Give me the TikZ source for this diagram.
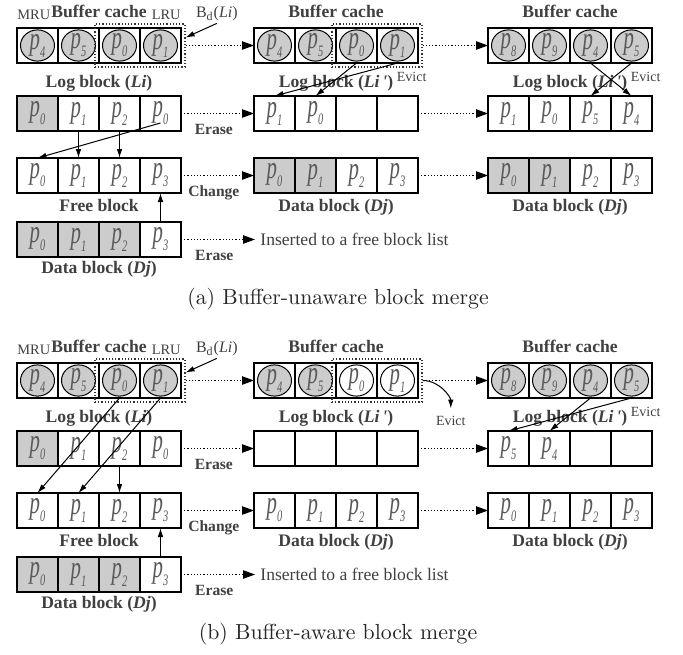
\documentclass[tikz,border=0pt]{standalone}
\usepackage{fontspec}
\usepackage{graphicx}
\newfontfamily\tms{Liberation Serif}
\usetikzlibrary{arrows.meta,positioning,fit}

% page label p_i
\newcommand\pg[1]{\scalebox{0.65}[1]{\tms\itshape\fontsize{16pt}{16pt}\selectfont p\raisebox{-4pt}{\fontsize{8pt}{8pt}\selectfont #1}}}
% one block of four pages
\newcommand\blockrow[4]{%
  \foreach \sty/\txt [count=\i] in {#4}
    \node[\sty] (#1-\i) at ({#2+41*(\i-1)},#3) {\txt};%
}

\begin{document}
\begin{tikzpicture}[x=0.5pt, y=-0.5pt,
    pcell/.style={draw, line width=0.9pt, minimum width=20.5pt, minimum height=17.5pt,
                  inner sep=0pt, outer sep=0pt, text=black!65},
    gcell/.style={pcell, fill=gray!40},
    gbuf/.style={pcell, path picture={\draw[fill=gray!40, line width=0.5pt]
                  (path picture bounding box.center) ellipse [x radius=8.5pt, y radius=7.8pt];}},
    wbuf/.style={pcell, path picture={\draw[fill=white, line width=0.5pt]
                  (path picture bounding box.center) ellipse [x radius=8.5pt, y radius=7.8pt];}},
    lab/.style={font=\tms\bfseries\fontsize{8.8pt}{10pt}\selectfont, text=black!75, inner sep=1pt},
    op/.style={font=\tms\bfseries\fontsize{7.8pt}{9pt}\selectfont, text=black!75, inner sep=1pt},
    note/.style={font=\tms\fontsize{8.8pt}{10pt}\selectfont, text=black!75, inner sep=1pt},
    lru/.style={font=\tms\fontsize{7.2pt}{8pt}\selectfont, text=black!75, inner sep=0pt},
    evict/.style={font=\tms\fontsize{7pt}{8pt}\selectfont, text=black!75, inner sep=0.5pt},
    selbox/.style={draw, densely dotted, line width=0.6pt, black!80, inner sep=2pt},
    flow/.style={densely dotted, line width=0.6pt, -{Triangle[length=6pt,width=4.2pt]}},
    pagearr/.style={line width=0.5pt, -{Latex[length=4.5pt,width=2.8pt]}},
    captext/.style={font=\fontsize{10.9pt}{13pt}\selectfont, text=black!85},
]
\useasboundingbox (0,0) rectangle (683,654);

% (a) Buffer-unaware block merge
\blockrow{a1b}{37.5}{45.5}{gbuf/\pg4, gbuf/\pg5, gbuf/\pg0, gbuf/\pg1}
\blockrow{a1l}{37.5}{113.5}{gcell/\pg0, pcell/\pg1, pcell/\pg2, pcell/\pg0}
\blockrow{a1f}{37.5}{175.5}{pcell/\pg0, pcell/\pg1, pcell/\pg2, pcell/\pg3}
\blockrow{a1d}{37.5}{239.5}{gcell/\pg0, gcell/\pg1, gcell/\pg2, pcell/\pg3}

\blockrow{a2b}{274.5}{45.5}{gbuf/\pg4, gbuf/\pg5, gbuf/\pg0, gbuf/\pg1}
\blockrow{a2l}{274.5}{113.5}{pcell/\pg1, pcell/\pg0, pcell/{}, pcell/{}}
\blockrow{a2d}{274.5}{175.5}{gcell/\pg0, gcell/\pg1, pcell/\pg2, pcell/\pg3}

\blockrow{a3b}{508.5}{45.5}{gbuf/\pg8, gbuf/\pg9, gbuf/\pg4, gbuf/\pg5}
\blockrow{a3l}{508.5}{113.5}{pcell/\pg1, pcell/\pg0, pcell/\pg5, pcell/\pg4}
\blockrow{a3d}{508.5}{175.5}{gcell/\pg0, gcell/\pg1, pcell/\pg2, pcell/\pg3}

% (b) Buffer-aware block merge
\blockrow{b1b}{37.5}{380.5}{gbuf/\pg4, gbuf/\pg5, gbuf/\pg0, gbuf/\pg1}
\blockrow{b1l}{37.5}{448.5}{gcell/\pg0, pcell/\pg1, pcell/\pg2, pcell/\pg0}
\blockrow{b1f}{37.5}{510.5}{pcell/\pg0, pcell/\pg1, pcell/\pg2, pcell/\pg3}
\blockrow{b1d}{37.5}{574.5}{gcell/\pg0, gcell/\pg1, gcell/\pg2, pcell/\pg3}

\blockrow{b2b}{274.5}{380.5}{gbuf/\pg4, gbuf/\pg5, wbuf/\pg0, wbuf/\pg1}
\blockrow{b2l}{274.5}{448.5}{pcell/{}, pcell/{}, pcell/{}, pcell/{}}
\blockrow{b2d}{274.5}{510.5}{pcell/\pg0, pcell/\pg1, pcell/\pg2, pcell/\pg3}

\blockrow{b3b}{508.5}{380.5}{gbuf/\pg8, gbuf/\pg9, gbuf/\pg4, gbuf/\pg5}
\blockrow{b3l}{508.5}{448.5}{pcell/\pg5, pcell/\pg4, pcell/{}, pcell/{}}
\blockrow{b3d}{508.5}{510.5}{pcell/\pg0, pcell/\pg1, pcell/\pg2, pcell/\pg3}

% Block labels
\foreach \col in {a1, a2, a3, b1, b2, b3}
  \node[lab, above=4pt of \col b-2.north east] (\col-buflab) {Buffer cache};
\node[lab, above=1pt of a1l-2.north east] (a1-loglab) {Log block (\textit{Li})};
\node[lab, above=1pt of b1l-2.north east] (b1-loglab) {Log block (\textit{Li})};
\foreach \col in {a2, a3, b2, b3}
  \node[lab, above=1pt of \col l-2.north east] (\col-loglab) {Log block (\textit{Li\,'})};
\foreach \col in {a1, b1} {
  \node[lab, below=2pt of \col f-2.south east] (\col-freelab) {Free block};
  \node[lab, below=1pt of \col d-2.south east] (\col-datalab) {Data block (\textit{Dj})};
}
\foreach \col in {a2, a3, b2, b3}
  \node[lab, below=2pt of \col d-2.south east] (\col-datalab) {Data block (\textit{Dj})};

% Dotted boxes round p0, p1
\foreach \col in {a1, a2, b1, b2}
  \node[selbox, fit=(\col b-3)(\col b-4)] (\col-box) {};

% MRU / LRU and B_d(Li)
\foreach \col in {a1, b1} {
  \node[lru, anchor=south west] (\col-mru) at ([yshift=4pt]\col b-1.north west) {MRU};
  \node[lru, anchor=south east] (\col-lru) at ([yshift=4pt]\col b-4.north east) {LRU};
  \node[note, font=\tms\fontsize{8pt}{9pt}\selectfont, above right=0pt and 4pt of \col-box.north east]
      (\col-bd) {B\textsubscript{d}(\textit{Li})};
  \draw[pagearr] (\col-bd.south) -- ([yshift=4pt]\col-box.east);
}

% Flows between steps
\foreach \pn in {a, b} {
  \node[note, right=37pt of \pn1d-4, inner sep=2.5pt] (\pn-ins) {Inserted to a free block list};
  \draw[flow] (\pn1-box.east) -- (\pn2b-1.west);
  \draw[flow] (\pn2-box.east) -- (\pn3b-1.west);
  \draw[flow] (\pn1l-4.east) -- node[op, below=4pt, pos=0.45] (\pn-erase1) {Erase} (\pn2l-1.west);
  \draw[flow] (\pn2l-4.east) -- (\pn3l-1.west);
  \draw[flow] (\pn1f-4.east) -- node[op, below=4pt, pos=0.45] (\pn-change) {Change} (\pn2d-1.west);
  \draw[flow] (\pn2d-4.east) -- (\pn3d-1.west);
  \draw[flow] (\pn1d-4.east) -- node[op, below=4pt, pos=0.45] (\pn-erase2) {Erase} (\pn-ins.west);
  \draw[pagearr] (\pn1d-4.north) -- (\pn1f-4.south);
  \draw[pagearr] (\pn1l-3.south) -- (\pn1f-3.north);
}

% Page moves (a)
\draw[pagearr] (a1l-2.south) -- (a1f-2.north);
\draw[pagearr] ([yshift=4pt]a1l-4.south) -- (a1f-1.north);
\draw[pagearr] (a2b-3.south) -- (a2l-2.north);
\draw[pagearr] (a2b-4.south) -- (a2l-1.north);
\draw[pagearr] (a3b-3.south) -- (a3l-4.north);
\draw[pagearr] (a3b-4.south) -- (a3l-3.north);

% Page moves (b)
\draw[pagearr] (b1b-3.south) -- (b1f-1.north);
\draw[pagearr] (b1b-4.south) -- (b1f-2.north);
\draw[pagearr] (b3b-3.south) -- (b3l-2.north);
\draw[pagearr] (b3b-4.south) -- (b3l-1.north);

% Evict notes
\foreach \col in {a2, a3, b3}
  \node[evict, below right=4pt and -1pt of \col b-4.south] (\col-evict) {Evict};
\node[evict, below right=17pt and 6pt of b2-box.east] (b2-evict) {Evict};
\draw[pagearr, shorten >=3pt] (b2-box.east) to[out=0, in=90] (b2-evict.north);

% Captions
\node[captext] (a-cap) at (338,299) {(a) Buffer-unaware block merge};
\node[captext] (b-cap) at (338,634) {(b) Buffer-aware block merge};

\end{tikzpicture}
\end{document}
